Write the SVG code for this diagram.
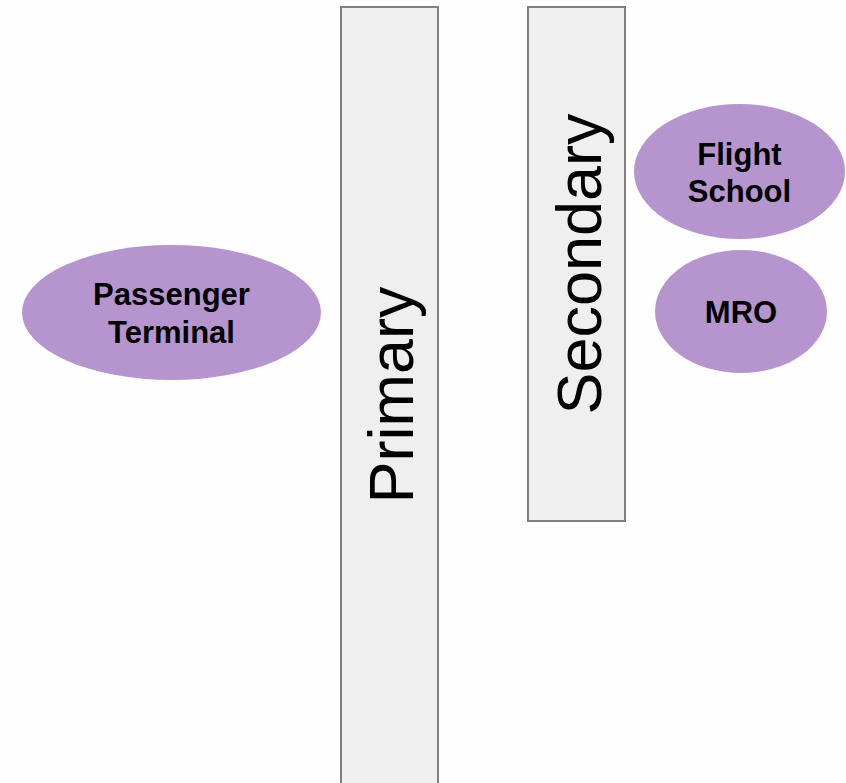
<svg xmlns="http://www.w3.org/2000/svg" width="846" height="783" viewBox="0 0 846 783">
<style>
.strip{fill:#efefef;stroke:#7f7f7f;stroke-width:2}
.strip-label{font-family:"Liberation Sans",Arial,sans-serif;font-size:63px;fill:#000;text-anchor:middle}
.bubble{fill:#b695cf;stroke:none}
.bubble-label{font-family:"Liberation Sans",Arial,sans-serif;font-size:31px;font-weight:bold;fill:#000;text-anchor:middle}
</style>
<rect width="846" height="783" fill="#fefefe"/>
<g id="connectors"></g>
<g id="primary">
<rect class="strip" x="341" y="7" width="97" height="790"/>
<text class="strip-label" transform="translate(413,395) rotate(-90)">Primary</text>
</g>
<g id="secondary">
<rect class="strip" x="528" y="7" width="97" height="514"/>
<text class="strip-label" transform="translate(601,264) rotate(-90)">Secondary</text>
</g>
<g id="passenger-terminal">
<ellipse class="bubble" cx="171.5" cy="312.5" rx="149.5" ry="67.5"/>
<text class="bubble-label" x="171.5" y="305">Passenger</text>
<text class="bubble-label" x="171.5" y="343">Terminal</text>
</g>
<g id="flight-school">
<ellipse class="bubble" cx="739.5" cy="171.5" rx="105.5" ry="67.5"/>
<text class="bubble-label" x="739.5" y="165">Flight</text>
<text class="bubble-label" x="739.5" y="202">School</text>
</g>
<g id="mro">
<ellipse class="bubble" cx="741" cy="311.5" rx="86" ry="61.5"/>
<text class="bubble-label" x="741" y="323">MRO</text>
</g>
</svg>
